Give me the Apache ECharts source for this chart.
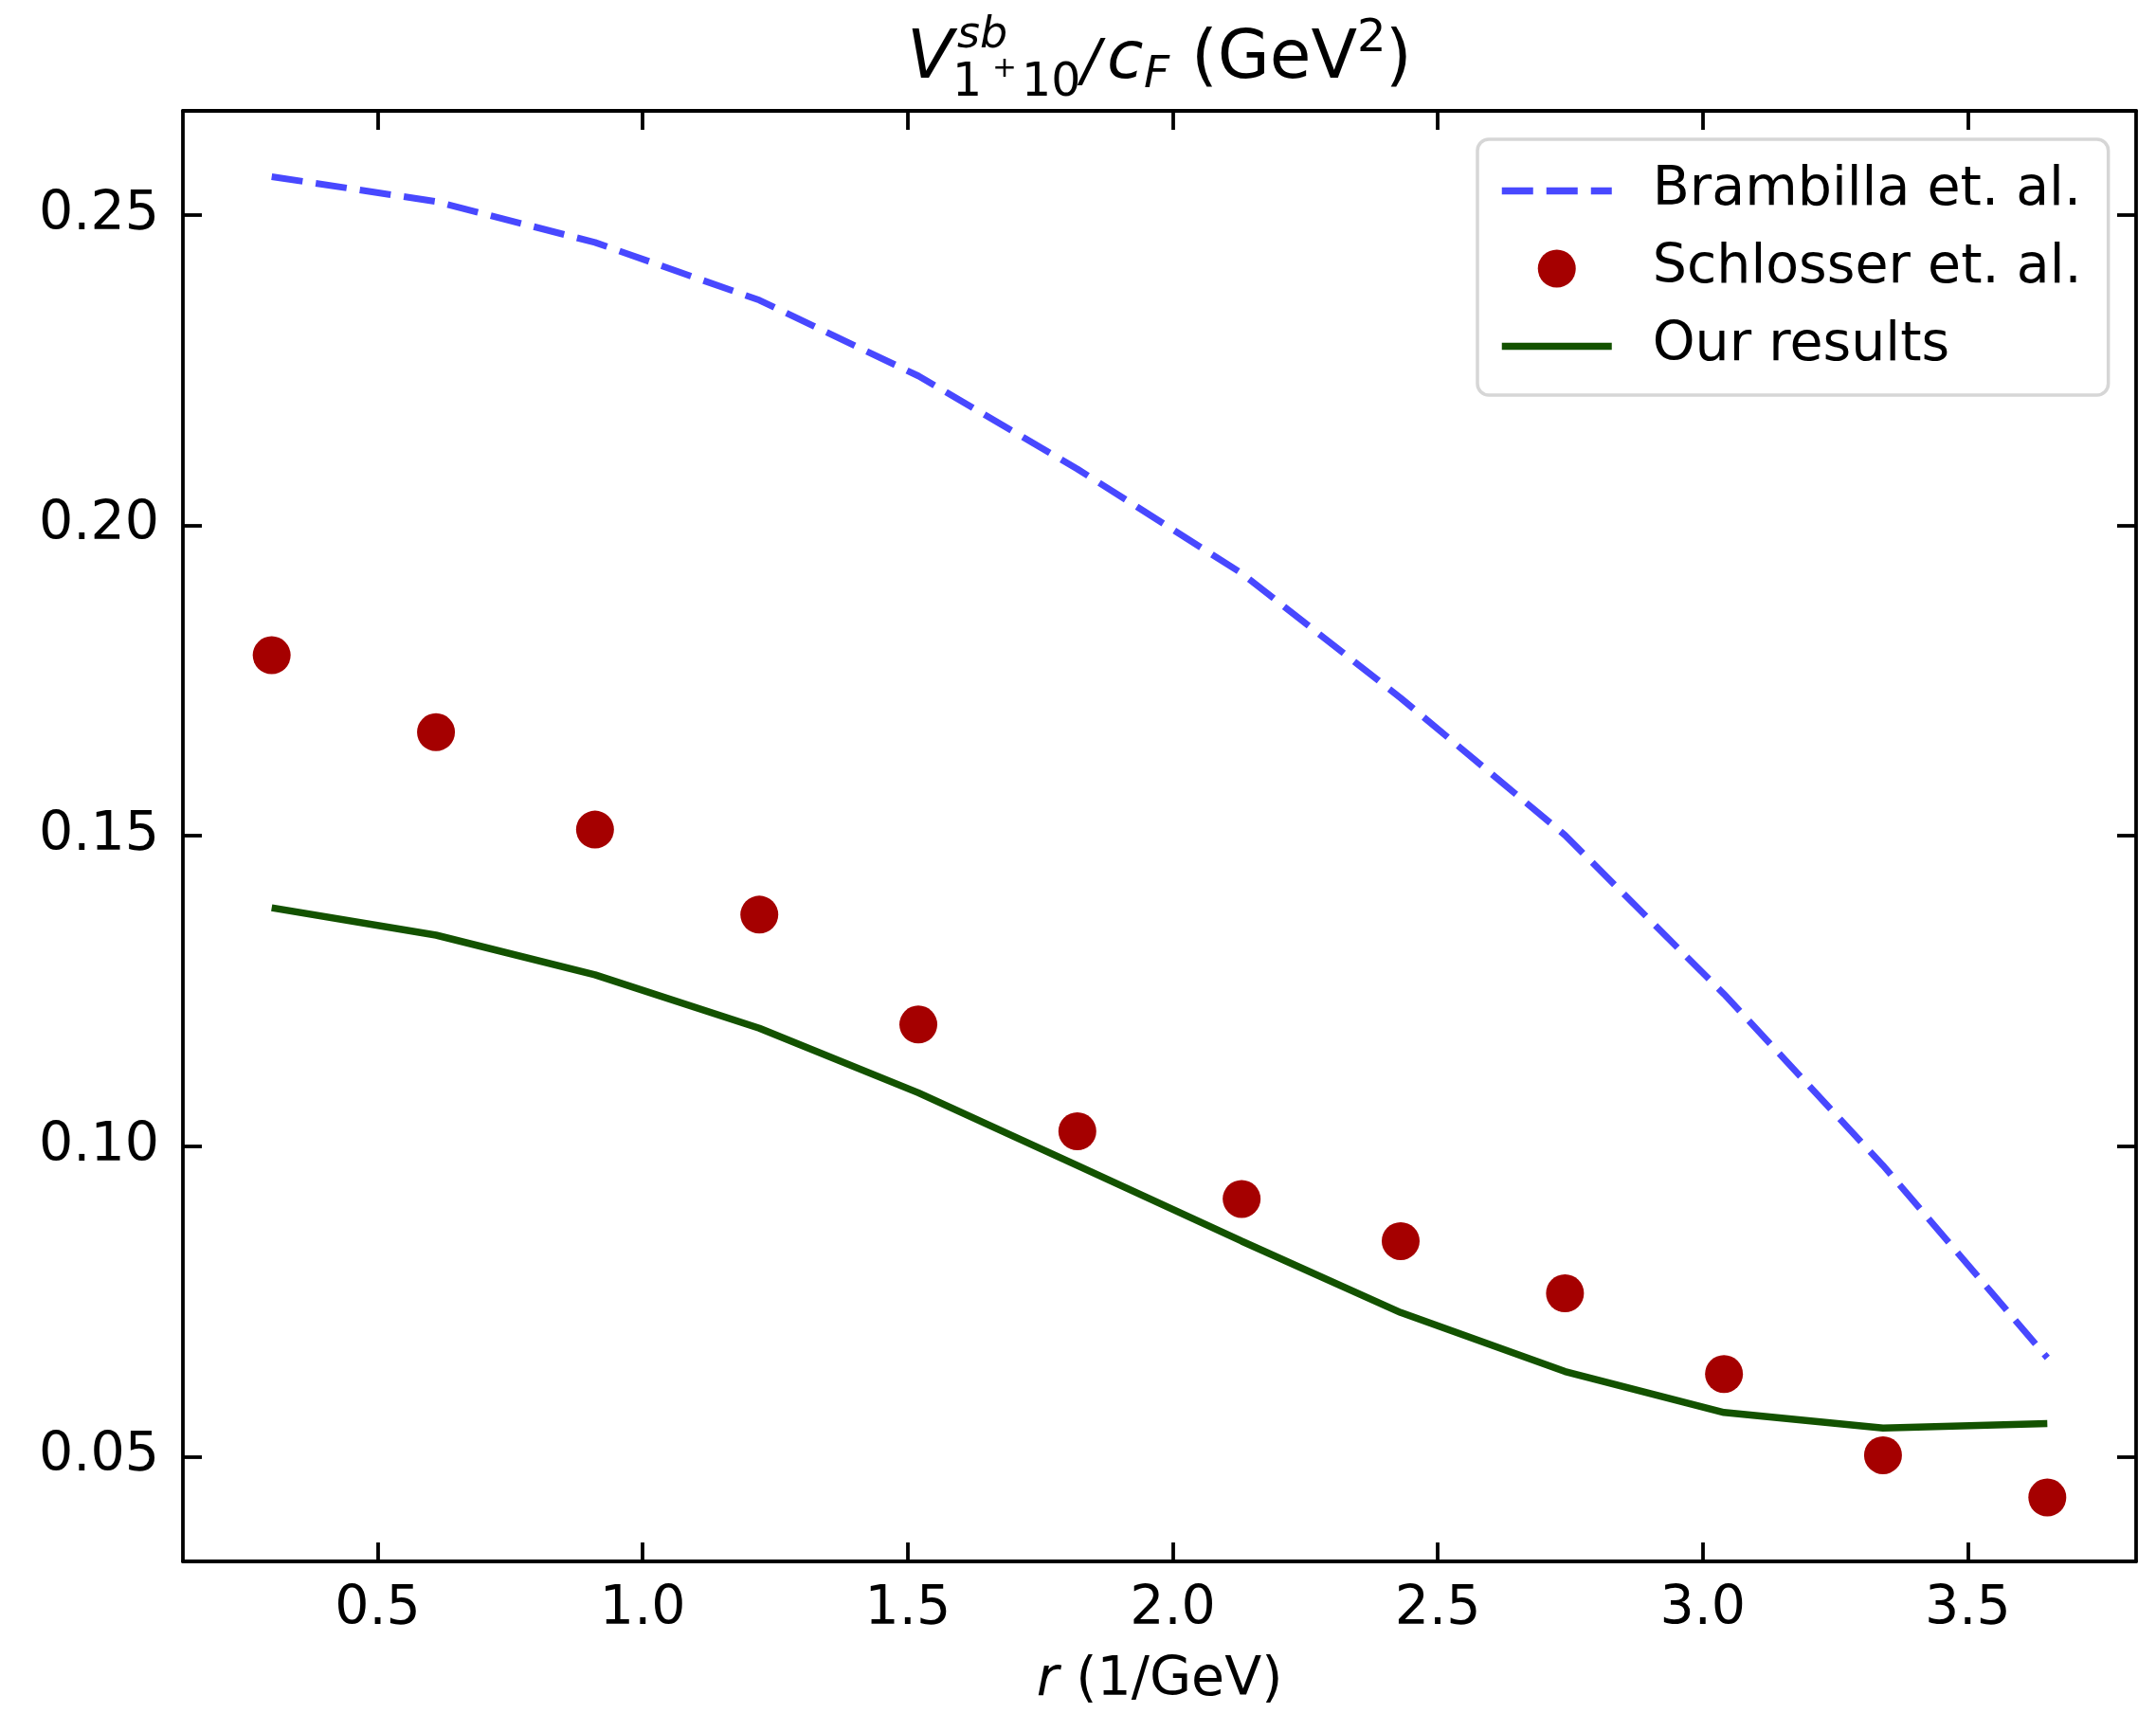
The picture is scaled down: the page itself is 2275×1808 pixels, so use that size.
<!DOCTYPE html>
<html><head><meta charset="utf-8">
<script src="https://cdn.jsdelivr.net/npm/echarts@6/dist/echarts.min.js"></script>
<style>html,body{margin:0;padding:0;background:#fff}#c{width:2275px;height:1808px}</style>
</head><body><div id="c"></div>
<script>
// ---- data ----
const rValues   = [0.30, 0.61, 0.91, 1.22, 1.52, 1.82, 2.13, 2.43, 2.74, 3.04, 3.34, 3.65];
const brambilla = [0.2562, 0.2522, 0.2456, 0.2363, 0.2241, 0.2091, 0.1923, 0.1722, 0.1501, 0.1245, 0.0969, 0.0659];
const schlosser = [0.1791, 0.1667, 0.1510, 0.1373, 0.1196, 0.1024, 0.0915, 0.0847, 0.0763, 0.0633, 0.0502, 0.0434];
const ours      = [0.1384, 0.1340, 0.1276, 0.1190, 0.1086, 0.0969, 0.0847, 0.0732, 0.0637, 0.0571, 0.0546, 0.0553];
const xTicks = [0.5, 1.0, 1.5, 2.0, 2.5, 3.0, 3.5];
const yTicks = [0.05, 0.10, 0.15, 0.20, 0.25];
const seriesNames = ['Brambilla et. al.', 'Schlosser et. al.', 'Our results'];

const FONT = 'DejaVu Sans';
const pair = (ys) => rValues.map((x, i) => [x, ys[i]]);

const lineW = 3.8;
function xAxisDef(pos, labels) {
  return {
    type: 'value', position: pos, min: 0.1325, max: 3.8175,
    axisLine: { show: true, onZero: false, lineStyle: { color: '#000', width: lineW } },
    axisTick: { show: true, inside: true, length: 20, customValues: xTicks, lineStyle: { color: '#000', width: lineW } },
    axisLabel: labels ? { show: true, customValues: xTicks, formatter: v => v.toFixed(1), fontFamily: FONT, fontSize: 57, color: '#000', margin: 23 } : { show: false },
    splitLine: { show: false }
  };
}
function yAxisDef(pos, labels) {
  return {
    type: 'value', position: pos, min: 0.0331, max: 0.2668,
    axisLine: { show: true, onZero: false, lineStyle: { color: '#000', width: lineW } },
    axisTick: { show: true, inside: true, length: 20, customValues: yTicks, lineStyle: { color: '#000', width: lineW } },
    axisLabel: labels ? { show: true, customValues: yTicks, formatter: v => v.toFixed(2), fontFamily: FONT, fontSize: 57, color: '#000', margin: 25, padding: [12, 0, 0, 0] } : { show: false },
    splitLine: { show: false }
  };
}

const xBottom = xAxisDef('bottom', true);
xBottom.name = '{i|r} (1/GeV)';
xBottom.nameLocation = 'middle';
xBottom.nameGap = 98;
xBottom.nameTextStyle = { fontFamily: FONT, fontSize: 57, color: '#000', rich: { i: { fontFamily: FONT, fontSize: 57, fontStyle: 'italic', color: '#000' } } };

// title pieces (mathtext-like layout)
function tx(text, x, baseline, size, italic) {
  return { type: 'text', x: x, y: baseline - 0.297 * size, silent: true,
    style: { text: text, font: (italic ? 'italic ' : '') + size + 'px "DejaVu Sans"', fill: '#000', align: 'left', verticalAlign: 'middle' } };
}
const titleParts = [
  tx('V', 957, 85, 72, true),
  tx('sb', 1010, 52, 46, true),
  tx('1', 1005, 103, 49, false),
  tx('+', 1047, 82, 31, false),
  tx('10', 1078, 103, 49, false),
  tx('/', 1141, 86, 60, true),
  tx('c', 1168, 85, 70, true),
  tx('F', 1207, 94, 47, true),
  tx('(GeV', 1257, 85, 71, false),
  tx('2', 1432, 56, 48, false),
  tx(')', 1462, 85, 71, false)
];

const chart = echarts.init(document.getElementById('c'), null, { renderer: 'canvas' });
chart.setOption({
  backgroundColor: '#fff',
  animation: false,
  grid: { left: 193, right: 21, top: 117, bottom: 155, containLabel: false },
  xAxis: [xBottom, xAxisDef('top', false)],
  yAxis: [yAxisDef('left', true), yAxisDef('right', false)],
  legend: {
    orient: 'vertical', left: 1559, top: 147, align: 'left',
    itemWidth: 116, itemHeight: 40, itemGap: 25,
    padding: [26, 28, 23, 22],
    backgroundColor: 'rgba(255,255,255,0.8)', borderColor: '#d6d6d6', borderWidth: 3.5, borderRadius: 12,
    lineStyle: { width: 7.5 },
    textStyle: { fontFamily: FONT, fontSize: 57, color: '#000', padding: [0, 0, 0, 38] },
    data: [
      { name: seriesNames[0], itemStyle: { opacity: 0 } },
      { name: seriesNames[1] },
      { name: seriesNames[2], itemStyle: { opacity: 0 } }
    ]
  },
  graphic: titleParts,
  series: [
    { name: seriesNames[0], type: 'line', data: pair(brambilla), symbol: 'none', showSymbol: false,
      lineStyle: { color: '#4848ff', width: 7, type: [33, 14], cap: 'butt' }, itemStyle: { color: '#4848ff' }, z: 2 },
    { name: seriesNames[1], type: 'scatter', data: pair(schlosser), symbol: 'circle', symbolSize: 40,
      itemStyle: { color: '#a50000', opacity: 1 }, z: 3 },
    { name: seriesNames[2], type: 'line', data: pair(ours), symbol: 'none', showSymbol: false,
      lineStyle: { color: '#135200', width: 7.5 }, itemStyle: { color: '#135200' }, z: 2 }
  ]
});
</script>
</body></html>
